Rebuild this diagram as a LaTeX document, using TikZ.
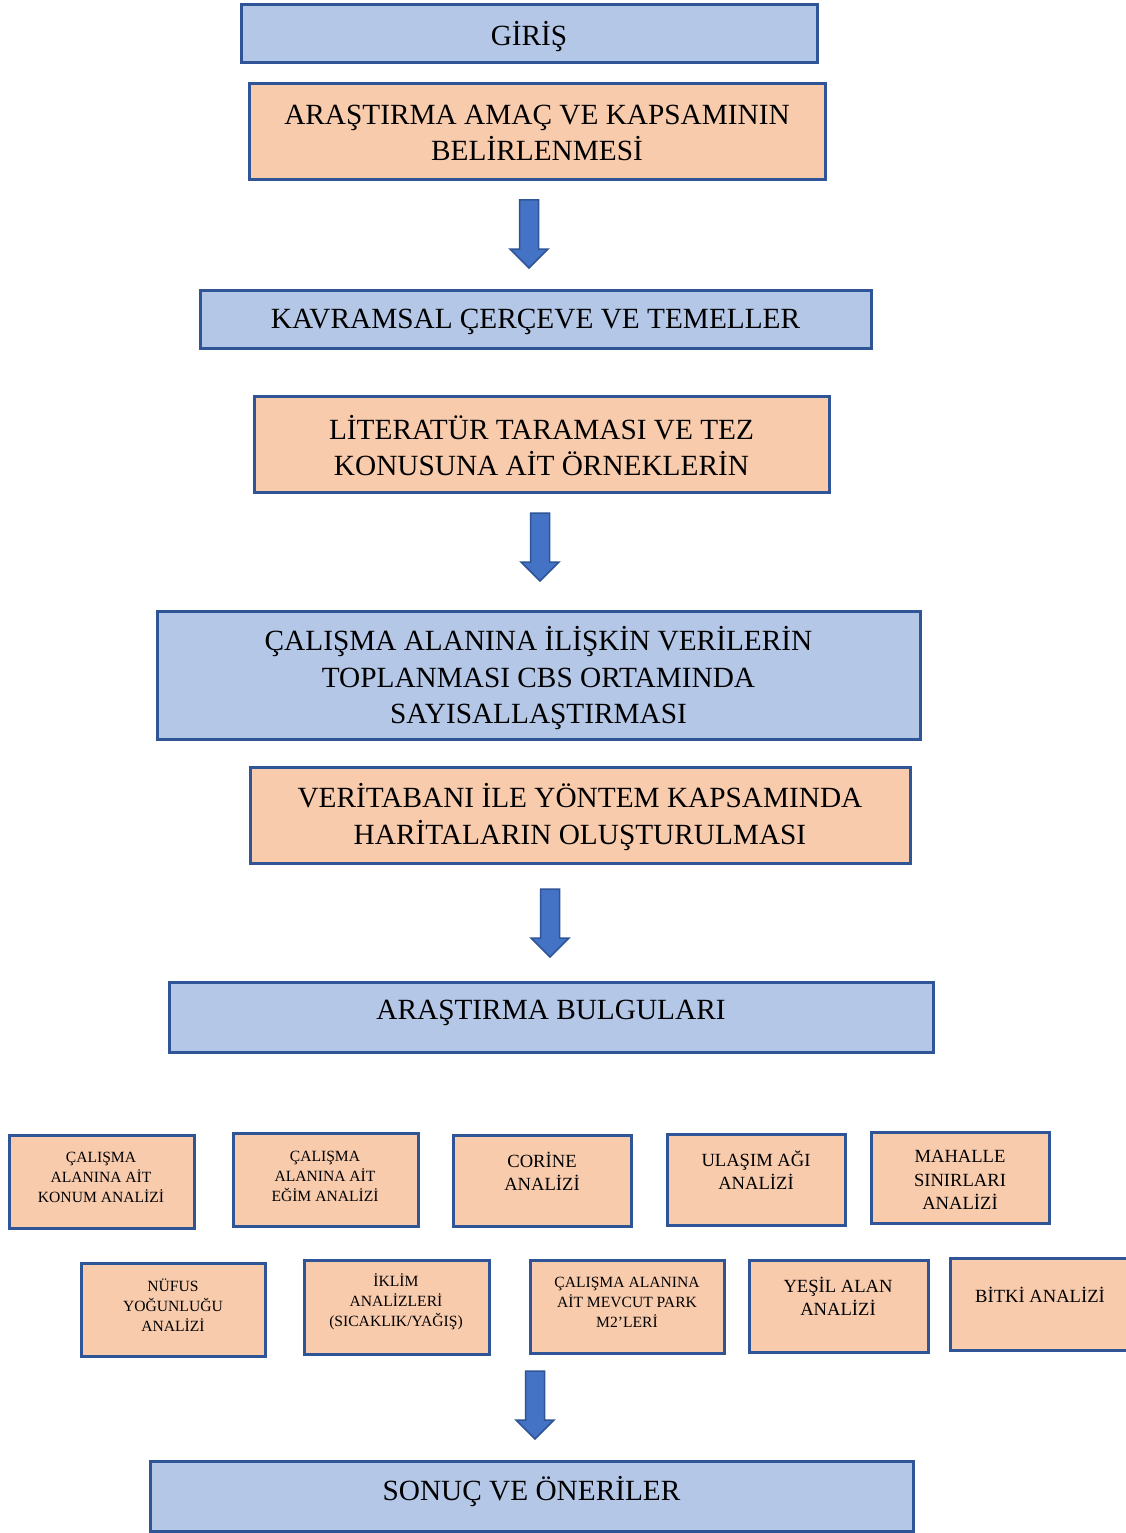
\documentclass[tikz,border=0pt]{standalone}
\usepackage{fontspec}
\setmainfont{Liberation Serif}
\definecolor{bfill}{HTML}{B4C7E7}
\definecolor{ofill}{HTML}{F8CBAD}
\definecolor{bline}{HTML}{2F5597}
\definecolor{afill}{HTML}{4472C4}
\tikzset{
  bluebox/.style={draw=bline, fill=bfill, line width=3pt, inner sep=0pt, rectangle},
  orangebox/.style={draw=bline, fill=ofill, line width=3pt, inner sep=0pt, rectangle},
  bigtxt/.style={align=center, inner sep=0pt, yshift=-3pt, font=\fontsize{29.3}{36.5}\selectfont},
  smalltxt/.style={align=center, inner sep=0pt, yshift=-2pt, font=\fontsize{15.6}{20}\selectfont},
  midtxt/.style={align=center, inner sep=0pt, yshift=-2pt, font=\fontsize{18.6}{23.5}\selectfont},
  darrow/.pic={\draw[fill=afill, draw=bline, line width=1.5pt, line join=miter]
    (-9.5,0) -- (9.5,0) -- (9.5,49) -- (19,49) -- (0,68) -- (-19,49) -- (-9.5,49) -- cycle;}
}
\newcommand\mybox[6]{\node[#6, minimum width={#4-#2}, minimum height={#5-#3}] (#1) at ({(#2+#4)/2},{(#3+#5)/2}) {};}
\begin{document}
\begin{tikzpicture}[x=1pt,y=-1pt]
\clip (0,0) rectangle (1126,1533);
\fill[white] (0,0) rectangle (1126,1533);
% main boxes
\mybox{giris}{241}{5}{817}{63}{bluebox}
\node[bigtxt] (girist) at (529,34) {GİRİŞ};
\mybox{amac}{249}{84}{825}{180}{orangebox}
\node[bigtxt] (amact) at (537,130) {ARAŞTIRMA AMAÇ VE KAPSAMININ\\BELİRLENMESİ};
\pic at (529,200) {darrow};
\mybox{kavram}{200}{290}{871}{348}{bluebox}
\node[bigtxt] (kavramt) at (535.5,319) {KAVRAMSAL ÇERÇEVE VE TEMELLER};
\mybox{lit}{254}{396}{829}{492}{orangebox}
\node[bigtxt] (litt) at (541.5,442.5) {LİTERATÜR TARAMASI VE TEZ\\KONUSUNA AİT ÖRNEKLERİN};
\pic at (540,513) {darrow};
\mybox{calisma}{157}{611}{920}{739}{bluebox}
\node[bigtxt] (calismat) at (538.5,675.5) {ÇALIŞMA ALANINA İLİŞKİN VERİLERİN\\TOPLANMASI CBS ORTAMINDA\\SAYISALLAŞTIRMASI};
\mybox{veri}{250}{767}{910}{863}{orangebox}
\node[bigtxt] (verit) at (580,814) {VERİTABANI İLE YÖNTEM KAPSAMINDA\\HARİTALARIN OLUŞTURULMASI};
\pic at (550,889) {darrow};
\mybox{bulgu}{169}{982}{933}{1052}{bluebox}
\node[bigtxt] (bulgut) at (551,1010) {ARAŞTIRMA BULGULARI};
% first row
\mybox{ba}{9}{1135}{194}{1228}{orangebox}
\node[smalltxt] (bat) at (101,1175) {ÇALIŞMA\\ALANINA AİT\\KONUM ANALİZİ};
\mybox{bb}{233}{1133}{418}{1226}{orangebox}
\node[smalltxt] (bbt) at (325,1174) {ÇALIŞMA\\ALANINA AİT\\EĞİM ANALİZİ};
\mybox{bc}{453}{1135}{631}{1226}{orangebox}
\node[midtxt] (bct) at (542,1169.5) {CORİNE\\ANALİZİ};
\mybox{bd}{667}{1134}{845}{1225}{orangebox}
\node[midtxt] (bdt) at (756,1168) {ULAŞIM AĞI\\ANALİZİ};
\mybox{be}{871}{1132}{1049}{1223}{orangebox}
\node[midtxt] (bet) at (960,1178) {MAHALLE\\SINIRLARI\\ANALİZİ};
% second row
\mybox{bf}{81}{1263}{265}{1356}{orangebox}
\node[smalltxt] (bft) at (173,1303) {NÜFUS\\YOĞUNLUĞU\\ANALİZİ};
\mybox{bg}{304}{1260}{489}{1354}{orangebox}
\node[smalltxt] (bgt) at (396,1300) {İKLİM\\ANALİZLERİ\\(SICAKLIK/YAĞIŞ)};
\mybox{bh}{530}{1260}{724}{1353}{orangebox}
\node[smalltxt] (bht) at (627,1300) {ÇALIŞMA ALANINA\\AİT MEVCUT PARK\\M2’LERİ};
\mybox{bi}{749}{1260}{928}{1352}{orangebox}
\node[midtxt] (bit) at (838,1294.5) {YEŞİL ALAN\\ANALİZİ};
\mybox{bj}{950}{1258}{1140}{1350}{orangebox}
\node[midtxt] (bjt) at (1040,1293) {BİTKİ ANALİZİ};
\pic at (535,1371) {darrow};
\mybox{sonuc}{150}{1461}{913}{1531}{bluebox}
\node[bigtxt] (sonuct) at (531.5,1489) {SONUÇ VE ÖNERİLER};
\end{tikzpicture}
\end{document}
